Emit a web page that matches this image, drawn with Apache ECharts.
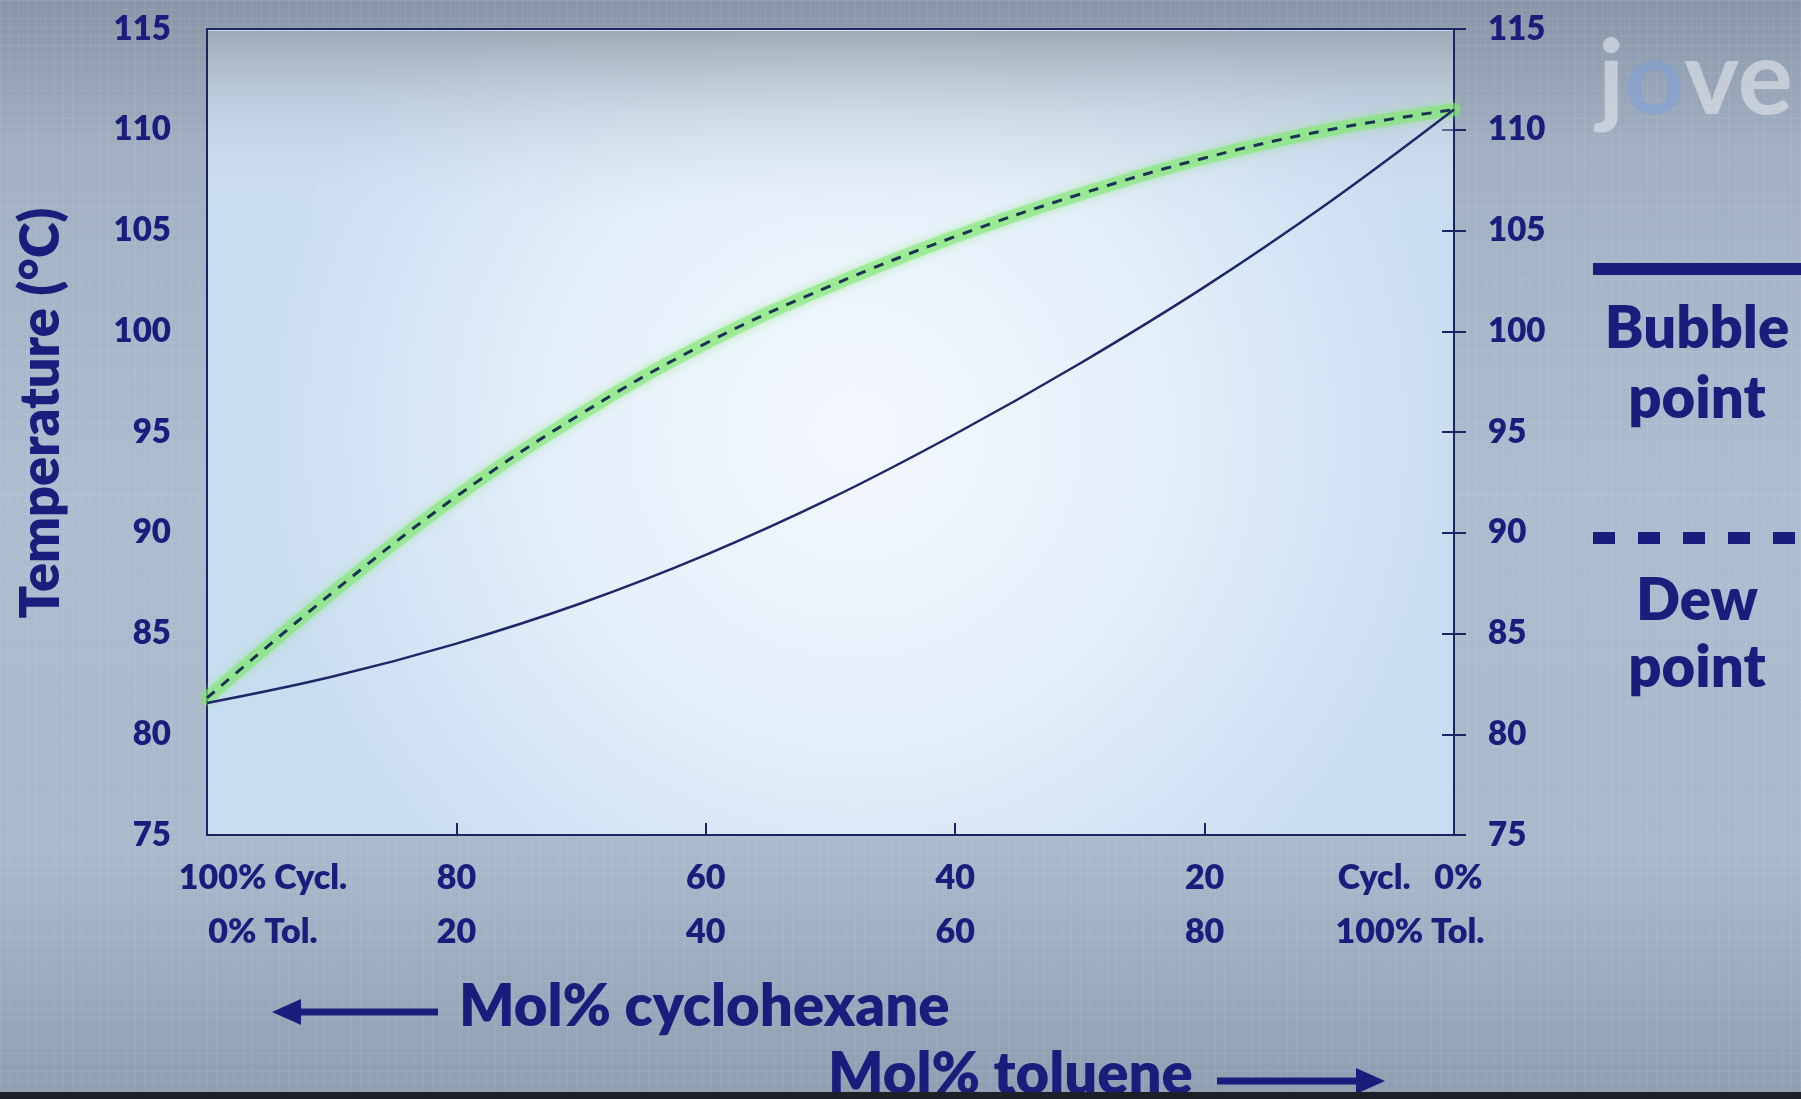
<!DOCTYPE html>
<html><head><meta charset="utf-8">
<script src="https://cdn.jsdelivr.net/npm/echarts@6/dist/echarts.min.js"></script>
<style>
html,body{margin:0;padding:0;width:1801px;height:1099px;overflow:hidden;}
body{background-color:#a6b4c7;
background-image:
 repeating-linear-gradient(0deg, rgba(255,255,255,0.07) 0 1px, transparent 1px 9px),
 repeating-linear-gradient(90deg, rgba(255,255,255,0.07) 0 1px, transparent 1px 9px),
 linear-gradient(180deg,#8995a6 0%,#a2b0c2 14%,#adbccf 45%,#a9b8cb 78%,#8f9db1 100%);}
#chart{position:absolute;left:0;top:0;width:1801px;height:1099px;}
#bar{position:absolute;left:0;bottom:0;width:1801px;height:7px;background:#1d2127;z-index:5;}
</style></head>
<body><div id="chart"></div><div id="bar"></div>
<script>
// ---- data ----
const molCyclo = [100, 90, 80, 70, 60, 50, 40, 30, 20, 10, 0];
const bubbleT = [81.55, 82.85, 84.5, 86.5, 88.9, 91.7, 94.9, 98.4, 102.2, 106.4, 111.0];
const dewT = [81.8, 87.0, 91.8, 95.9, 99.4, 102.25, 104.7, 106.8, 108.6, 110.0, 111.0];
const xTicks = [100, 80, 60, 40, 20, 0];
const xTopLabels = ['100% Cycl.', '80', '60', '40', '20', 'Cycl.   0%'];
const xBottomLabels = ['0% Tol.', '20', '40', '60', '80', '100% Tol.'];
const yTicks = [75, 80, 85, 90, 95, 100, 105, 110, 115];

const NAVY = '#1b1d7c';
const AXIS = '#1c2563';
const FONT = 'Lato, "Noto Sans", sans-serif';
const W = 800;

const pair = (xs, ys) => xs.map((x, i) => [x, ys[i]]);

const chart = echarts.init(document.getElementById('chart'), null, {renderer: 'canvas'});

const yAxisBase = {
  type: 'value', min: yTicks[0], max: yTicks[yTicks.length - 1], interval: 5,
  axisLine: {show: true, lineStyle: {color: AXIS, width: 2}},
  axisTick: {show: true, inside: true, length: 12, lineStyle: {color: AXIS, width: 2}},
  splitLine: {show: false},
  axisLabel: {color: NAVY, fontFamily: FONT, fontWeight: W, fontSize: 33}
};
const tick = {color: NAVY, fontFamily: FONT, fontWeight: W, fontSize: 34, lineHeight: 54};

chart.setOption({
  animation: false,
  backgroundColor: 'transparent',
  grid: {
    left: 207, right: 347, top: 29, bottom: 264, show: true,
    borderColor: AXIS, borderWidth: 2,
    backgroundColor: {
      type: 'radial', x: 0.52, y: 0.5, r: 0.75,
      colorStops: [
        {offset: 0, color: '#f3f8fd'},
        {offset: 0.5, color: '#e5eff9'},
        {offset: 1, color: '#c9ddf0'}
      ]
    }
  },
  xAxis: {
    type: 'value', min: 0, max: 100, interval: 20, inverse: true,
    axisLine: {show: true, onZero: false, lineStyle: {color: AXIS, width: 2}},
    axisTick: {show: true, inside: true, length: 12, lineStyle: {color: AXIS, width: 2}},
    splitLine: {show: false},
    axisLabel: {
      margin: 16,
      formatter: function (v) {
        const i = xTicks.indexOf(v);
        if (i < 0) return '';
        const st = i === 0 ? 'l' : (i === xTicks.length - 1 ? 'r' : 'a');
        return '{' + st + '|' + xTopLabels[i] + '}\n{' + st + '|' + xBottomLabels[i] + '}';
      },
      rich: {
        a: tick,
        l: Object.assign({}, tick, {padding: [0, 0, 0, 112]}),
        r: Object.assign({}, tick, {padding: [0, 88, 0, 0]})
      }
    }
  },
  yAxis: [
    Object.assign({}, yAxisBase, {
      position: 'left',
      axisLabel: Object.assign({}, yAxisBase.axisLabel, {margin: 36}),
      name: 'Temperature (°C)', nameLocation: 'middle', nameGap: 138,
      nameTextStyle: {color: NAVY, fontFamily: FONT, fontWeight: W, fontSize: 54, padding: [0, 0, 0, 38]}
    }),
    Object.assign({}, yAxisBase, {
      position: 'right',
      axisLabel: Object.assign({}, yAxisBase.axisLabel, {margin: 34})
    })
  ],
  series: [
    {
      name: 'Dew glow', type: 'line', smooth: 0.4, symbol: 'none', silent: true,
      data: pair(molCyclo, dewT), z: 2,
      lineStyle: {color: 'rgba(125,232,110,0.55)', width: 13, shadowBlur: 8, shadowColor: 'rgba(125,232,110,0.9)', cap: 'round'}
    },
    {
      name: 'Dew point', type: 'line', smooth: 0.4, symbol: 'none',
      data: pair(molCyclo, dewT), z: 3,
      lineStyle: {color: '#1b3157', width: 3, type: [10, 9]}
    },
    {
      name: 'Bubble point', type: 'line', smooth: 0.4, symbol: 'none',
      data: pair(molCyclo, bubbleT), z: 3,
      lineStyle: {color: '#1f276b', width: 2.5}
    }
  ],
  graphic: [
    // grey haze at top of plot area
    {type: 'rect', silent: true, z: 1, shape: {x: 208, y: 31, width: 1245, height: 190},
      style: {fill: {type: 'linear', x: 0, y: 0, x2: 0, y2: 1, colorStops: [
        {offset: 0, color: 'rgba(150,160,172,0.85)'},
        {offset: 0.45, color: 'rgba(185,196,208,0.45)'},
        {offset: 1, color: 'rgba(220,230,240,0)'}]}}},
    // watermark
    {type: 'text', silent: true, z: 1, style: {x: 1598, y: 80, text: '{j|j}{o|o}{j|ve}',
      rich: {j: {fill: 'rgba(228,232,238,0.6)', font: 'bold 104px Lato, sans-serif'},
             o: {fill: 'rgba(120,160,225,0.45)', font: 'bold 104px Lato, sans-serif'}},
      verticalAlign: 'middle', align: 'left'}},
    // legend: bubble point
    {type: 'rect', silent: true, shape: {x: 1593, y: 263, width: 208, height: 12}, style: {fill: NAVY}},
    {type: 'text', silent: true, style: {x: 1697, y: 329, text: 'Bubble', fill: NAVY,
      font: W + ' 58px Lato, sans-serif', align: 'center', verticalAlign: 'middle'}},
    {type: 'text', silent: true, style: {x: 1697, y: 399, text: 'point', fill: NAVY,
      font: W + ' 58px Lato, sans-serif', align: 'center', verticalAlign: 'middle'}},
    // legend: dew point
    {type: 'line', silent: true, shape: {x1: 1593, y1: 538, x2: 1801, y2: 538},
      style: {stroke: NAVY, lineWidth: 12, lineDash: [22, 23]}},
    {type: 'text', silent: true, style: {x: 1697, y: 601, text: 'Dew', fill: NAVY,
      font: W + ' 58px Lato, sans-serif', align: 'center', verticalAlign: 'middle'}},
    {type: 'text', silent: true, style: {x: 1697, y: 668, text: 'point', fill: NAVY,
      font: W + ' 58px Lato, sans-serif', align: 'center', verticalAlign: 'middle'}},
    // axis titles with arrows
    {type: 'text', silent: true, style: {x: 459, y: 1007, text: 'Mol% cyclohexane', fill: NAVY,
      font: W + ' 58px Lato, sans-serif', align: 'left', verticalAlign: 'middle'}},
    {type: 'line', silent: true, shape: {x1: 296, y1: 1012, x2: 438, y2: 1012}, style: {stroke: NAVY, lineWidth: 7}},
    {type: 'polygon', silent: true, shape: {points: [[272, 1012], [301, 999], [301, 1025]]}, style: {fill: NAVY}},
    {type: 'text', silent: true, style: {x: 828, y: 1075, text: 'Mol% toluene', fill: NAVY,
      font: W + ' 58px Lato, sans-serif', align: 'left', verticalAlign: 'middle'}},
    {type: 'line', silent: true, shape: {x1: 1217, y1: 1081, x2: 1362, y2: 1081}, style: {stroke: NAVY, lineWidth: 7}},
    {type: 'polygon', silent: true, shape: {points: [[1385, 1081], [1356, 1068], [1356, 1094]]}, style: {fill: NAVY}}
  ]
});
</script></body></html>
